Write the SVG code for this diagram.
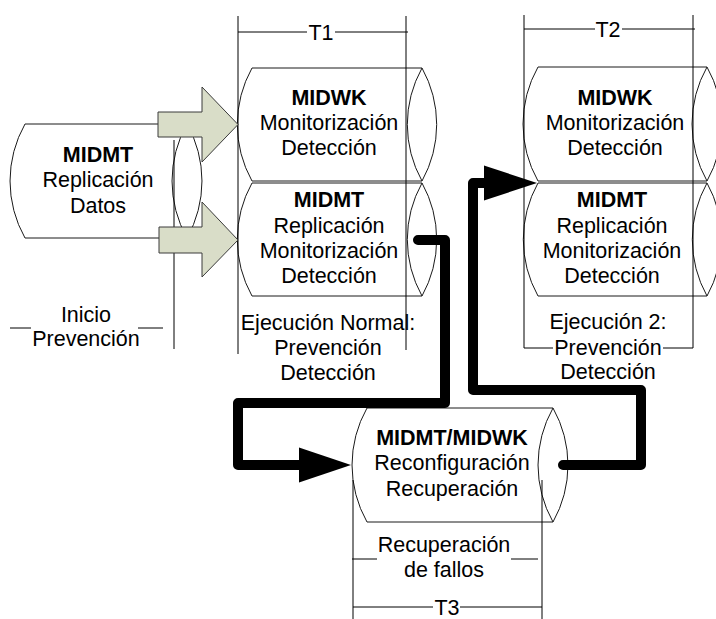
<svg xmlns="http://www.w3.org/2000/svg" width="716" height="619" viewBox="0 0 716 619">
  <style>
    .cyl { fill: #ffffff; stroke: #1a1a1a; stroke-width: 1; }
    .lens { fill: none; stroke: #1a1a1a; stroke-width: 1; }
    .dim { fill: none; stroke: #000000; stroke-width: 1; }
    .t { font-family: "Liberation Sans", Arial, sans-serif; font-size: 21.5px; fill: #000000; text-anchor: middle; }
    .b { font-weight: bold; }
    .blk { fill: #d9ddc8; stroke: #3a3a3a; stroke-width: 1; }
    .conn { fill: none; stroke: #000000; stroke-width: 10; stroke-linecap: round; stroke-linejoin: round; }
    .head { fill: #000000; stroke: none; }
  </style>
  <rect width="716" height="619" fill="#ffffff"/>

  <!-- process stages drawn as horizontal cylinders -->
  <g id="midmt-inicio">
    <path class="cyl" d="M25,124 H187 A116,116 0 0 1 187,238 H25 A116,116 0 0 1 25,124 Z"/>
    <path class="lens" d="M187,124 A116,116 0 0 0 187,238"/>
    <text class="t b" x="98" y="162">MIDMT</text>
    <text class="t" x="98" y="187">Replicación</text>
    <text class="t" x="98" y="213">Datos</text>
  </g>

  <g id="midwk-t1">
    <path class="cyl" d="M252,68 H422 A116,116 0 0 1 422,181 H252 A116,116 0 0 1 252,68 Z"/>
    <path class="lens" d="M422,68 A116,116 0 0 0 422,181"/>
    <text class="t b" x="329" y="105">MIDWK</text>
    <text class="t" x="329" y="130">Monitorización</text>
    <text class="t" x="329" y="155">Detección</text>
  </g>

  <g id="midmt-t1">
    <path class="cyl" d="M252,183 H422 A116,116 0 0 1 422,296 H252 A116,116 0 0 1 252,183 Z"/>
    <path class="lens" d="M422,183 A116,116 0 0 0 422,296"/>
    <text class="t b" x="329" y="207">MIDMT</text>
    <text class="t" x="329" y="233">Replicación</text>
    <text class="t" x="329" y="258">Monitorización</text>
    <text class="t" x="329" y="283">Detección</text>
  </g>

  <g id="midwk-t2">
    <path class="cyl" d="M538,67 H707 A116,116 0 0 1 707,181 H538 A116,116 0 0 1 538,67 Z"/>
    <path class="lens" d="M707,67 A116,116 0 0 0 707,181"/>
    <text class="t b" x="615" y="105">MIDWK</text>
    <text class="t" x="615" y="130">Monitorización</text>
    <text class="t" x="615" y="155">Detección</text>
  </g>

  <g id="midmt-t2">
    <path class="cyl" d="M538,183 H707 A116,116 0 0 1 707,296 H538 A116,116 0 0 1 538,183 Z"/>
    <path class="lens" d="M707,183 A116,116 0 0 0 707,296"/>
    <text class="t b" x="612" y="207">MIDMT</text>
    <text class="t" x="612" y="233">Replicación</text>
    <text class="t" x="612" y="258">Monitorización</text>
    <text class="t" x="612" y="283">Detección</text>
  </g>

  <g id="midmt-midwk-t3">
    <path class="cyl" d="M367,408 H553 A116,116 0 0 1 553,522 H367 A116,116 0 0 1 367,408 Z"/>
    <path class="lens" d="M553,408 A116,116 0 0 0 553,522"/>
    <text class="t b" x="452" y="445">MIDMT/MIDWK</text>
    <text class="t" x="452" y="470">Reconfiguración</text>
    <text class="t" x="452" y="496">Recuperación</text>
  </g>

  <!-- time spans -->
  <g id="span-inicio">
    <path class="dim" d="M174,140 V349 M10,328 H31 M138,328 H163"/>
    <text class="t" x="86" y="322">Inicio</text>
    <text class="t" x="86" y="346">Prevención</text>
  </g>

  <g id="span-t1">
    <path class="dim" d="M238,16 V354 M406,16 V350 M238,32 H307 M335,32 H408"/>
    <text class="t" x="321" y="40">T1</text>
    <text class="t" x="328" y="330">Ejecución Normal:</text>
    <text class="t" x="328" y="355">Prevención</text>
    <text class="t" x="328" y="380">Detección</text>
  </g>

  <g id="span-t2">
    <path class="dim" d="M524,15 V348 M693,15 V348 M524,29 H595 M622,29 H695 M524,348 H553 M663,348 H693"/>
    <text class="t" x="608" y="37">T2</text>
    <text class="t" x="608" y="329">Ejecución 2:</text>
    <text class="t" x="608" y="355">Prevención</text>
    <text class="t" x="608" y="379">Detección</text>
  </g>

  <g id="span-t3">
    <path class="dim" d="M353,480 V619 M542,480 V619 M352,559 H377 M511,559 H538 M353,607 H433 M460,607 H542"/>
    <text class="t" x="444" y="552">Recuperación</text>
    <text class="t" x="444" y="577">de fallos</text>
    <text class="t" x="447" y="615">T3</text>
  </g>

  <!-- block arrows feeding the first stage -->
  <g id="feed-arrows">
    <polygon class="blk" points="158,112 202,112 202,87 238,124.5 202,162 202,137 158,137"/>
    <polygon class="blk" points="159,227 202,227 202,202 238,240 202,277 202,253 159,253"/>
  </g>

  <!-- failure / recovery flow -->
  <g id="connectors">
    <path class="conn" d="M418,240 H445 V403 H238 V465 H305"/>
    <polygon class="head" points="299,447.5 351,465 299,482.5"/>
    <path class="conn" d="M563,465 H641 V390 H473 V183 H490"/>
    <polygon class="head" points="484,165.5 537,183 484,200.5"/>
  </g>
</svg>
